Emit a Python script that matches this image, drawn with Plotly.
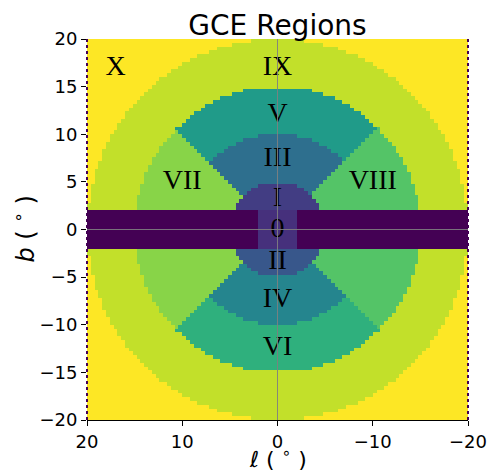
import numpy as np
import plotly.graph_objects as go

# Region geometry (degrees)
ring_radii = [2, 5, 10, 15, 20]
band_half_width = 2
grid_step = 0.4

# Region codes (colour index on viridis, 0..11)
code_band, code_0, code_I, code_II = 0, 1.5, 2, 3
code_III, code_IV, code_V, code_VI = 4, 5, 6, 7
code_VIII, code_VII, code_IX, code_X = 8, 9, 10, 11

# Region labels and their positions
labels = ["X", "IX", "V", "III", "I", "0", "II", "IV", "VI", "VII", "VIII"]
label_l = [17, 0, 0, 0, 0, 0, 0, 0, 0, 10, -10]
label_b = [17, 17, 12, 7.4, 3.2, 0, -3.4, -7.4, -12.4, 5, 5]

# Reference cross-hair position
origin_l, origin_b = 0, 0

l_centers = np.arange(-20 + grid_step / 2, 20, grid_step)
b_centers = np.arange(-20 + grid_step / 2, 20, grid_step)
L, B = np.meshgrid(l_centers, b_centers)
R = np.sqrt(L**2 + B**2)
r0, r1, r2, r3, r4 = ring_radii

Z = np.full(L.shape, code_X, dtype=float)
Z[(R < r4)] = code_IX
side = np.abs(L) > np.abs(B)
Z[(R < r3) & side & (L > 0)] = code_VII
Z[(R < r3) & side & (L < 0)] = code_VIII
Z[(R < r3) & ~side & (B > 0)] = code_V
Z[(R < r3) & ~side & (B < 0)] = code_VI
Z[(R < r2) & ~side & (B > 0)] = code_III
Z[(R < r2) & ~side & (B < 0)] = code_IV
Z[(R < r1) & (B > 0)] = code_I
Z[(R < r1) & (B < 0)] = code_II
inband = np.abs(B) < band_half_width
Z[inband] = code_band
Z[inband & (np.abs(L) < band_half_width)] = code_0

fig = go.Figure()
fig.add_trace(go.Heatmap(
    x=l_centers, y=b_centers, z=Z,
    colorscale="Viridis", zmin=0, zmax=11, showscale=False,
    hoverinfo="skip",
))

# grey cross-hair lines above the map
fig.add_shape(type="line", xref="x", yref="paper", x0=origin_l, x1=origin_l, y0=0, y1=1,
              line=dict(color="rgba(128,128,128,0.9)", width=1), layer="above")
fig.add_shape(type="line", xref="paper", yref="y", x0=0, x1=1, y0=origin_b, y1=origin_b,
              line=dict(color="rgba(128,128,128,0.9)", width=1), layer="above")

fig.add_trace(go.Scatter(
    x=label_l, y=label_b, mode="text", text=labels,
    textfont=dict(family="Liberation Serif", size=28, color="black"),
    hoverinfo="skip", showlegend=False,
))

for xp in [0, 1]:
    fig.add_shape(type="line", xref="paper", yref="paper", x0=xp, x1=xp, y0=0, y1=1,
                  line=dict(color="#440154", width=2, dash="dot"))

fig.add_annotation(text="<i>\u2113</i> ( <sup>\u2218</sup> )", xref="paper", yref="paper",
                   x=0.5, y=0, xanchor="center", yanchor="middle", yshift=-38,
                   showarrow=False, font=dict(family="DejaVu Sans", size=22, color="black"))
fig.add_annotation(text="<i>b</i> ( <sup>\u2218</sup> )", xref="paper", yref="paper",
                   x=0, y=0.5, xanchor="center", yanchor="middle", xshift=-64,
                   textangle=-90, showarrow=False,
                   font=dict(family="DejaVu Sans", size=24, color="black"))

fig.update_layout(
    width=489, height=470,
    margin=dict(l=87, r=21, t=39, b=50, autoexpand=False),
    paper_bgcolor="white", plot_bgcolor="white",
    font=dict(family="DejaVu Sans", color="black"),
    title=dict(text="GCE Regions", x=0.5, xanchor="center", xref="paper",
               y=1, yref="paper", yanchor="bottom", pad=dict(b=4),
               font=dict(family="DejaVu Sans", size=28, color="black")),
    showlegend=False,
)
fig.update_xaxes(
    automargin=False,
    range=[20, -20], tickvals=[20, 10, 0, -10, -20],
    ticktext=["20", "10", "0", "\u221210", "\u221220"],
    ticks="outside", ticklen=5, tickcolor="black", tickwidth=1,
    showgrid=False, zeroline=False,
    showline=True, linecolor="black", linewidth=1,
    tickfont=dict(family="DejaVu Sans", size=18),
)
fig.update_yaxes(
    automargin=False,
    range=[-20, 20], tickvals=[-20, -15, -10, -5, 0, 5, 10, 15, 20],
    ticktext=["\u221220", "\u221215", "\u221210", "\u22125", "0", "5", "10", "15", "20"],
    ticks="outside", ticklen=5, tickcolor="black", tickwidth=1,
    showgrid=False, zeroline=False,
    showline=False,
    tickfont=dict(family="DejaVu Sans", size=18),
)

fig.write_html("out.html")
